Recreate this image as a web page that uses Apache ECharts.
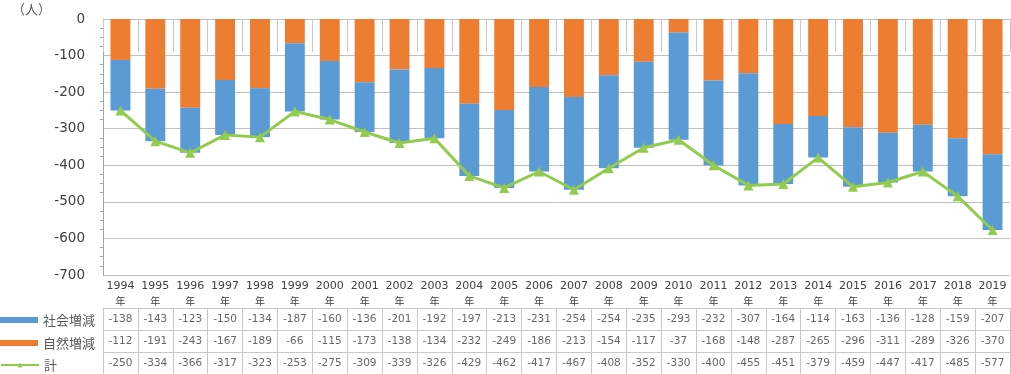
<!DOCTYPE html>
<html><head><meta charset="utf-8">
<script src="https://cdn.jsdelivr.net/npm/echarts@6/dist/echarts.min.js"></script>
<style>html,body{margin:0;padding:0;background:#fff}#c{width:1011px;height:374px}</style>
</head><body><div id="c"></div>
<script>
const years = ['1994','1995','1996','1997','1998','1999','2000','2001','2002','2003','2004','2005','2006','2007','2008','2009','2010','2011','2012','2013','2014','2015','2016','2017','2018','2019'];
const social = [-138,-143,-123,-150,-134,-187,-160,-136,-201,-192,-197,-213,-231,-254,-254,-235,-293,-232,-307,-164,-114,-163,-136,-128,-159,-207];
const natural = [-112,-191,-243,-167,-189,-66,-115,-173,-138,-134,-232,-249,-186,-213,-154,-117,-37,-168,-148,-287,-265,-296,-311,-289,-326,-370];
const total = [-250,-334,-366,-317,-323,-253,-275,-309,-339,-326,-429,-462,-417,-467,-408,-352,-330,-400,-455,-451,-379,-459,-447,-417,-485,-577];
const rowNames = ['社会増減','自然増減','計'];
const yTicks = [0,-100,-200,-300,-400,-500,-600,-700];

const rows = [social, natural, total];
const tableData = [];
rows.forEach((arr, r) => arr.forEach((v, i) => tableData.push({value: [i, r], v: v})));

const legendText = {fontFamily: 'Noto Sans CJK JP', fontSize: 13, color: '#595959', lineHeight: 14};
const legendTops = [313, 336, 358];
const legendIcons = ['rect', 'rect', undefined];

const chart = echarts.init(document.getElementById('c'));
chart.setOption({
  animation: false,
  textStyle: {fontFamily: 'DejaVu Sans'},
  graphic: [{type: 'text', left: 12, top: 3, style: {text: '（人）', fill: '#595959', font: '13px "Noto Sans CJK JP"'}}],
  legend: rowNames.map((n, i) => ({
    left: 0, top: legendTops[i], itemWidth: 38, itemHeight: 6, padding: 0,
    data: [legendIcons[i] ? {name: n, icon: legendIcons[i]} : {name: n}],
    textStyle: legendText
  })),
  grid: [
    {left: 103, right: 1, top: 19, height: 256},
    {left: 103, right: 1, top: 308, height: 68}
  ],
  xAxis: [
    {type: 'category', gridIndex: 0, data: years,
     axisLine: {show: true, lineStyle: {color: '#bfbfbf'}},
     axisTick: {show: true, length: 33, lineStyle: {color: '#c8c8c8'}},
     axisLabel: {interval: 0, margin: 4, fontSize: 11, color: '#404040', lineHeight: 15,
       formatter: v => v + '\n{n|年}', rich: {n: {fontFamily: 'Noto Sans CJK JP', fontSize: 10, color: '#404040', lineHeight: 15}}}},
    {type: 'category', gridIndex: 1, data: years,
     axisLine: {show: false}, axisTick: {show: false}, axisLabel: {show: false},
     splitLine: {show: true, interval: 0, lineStyle: {color: '#c8c8c8'}}}
  ],
  yAxis: [
    {type: 'value', gridIndex: 0, min: -700, max: 0, interval: 100,
     axisLine: {show: true, lineStyle: {color: '#a6a6a6'}},
     axisTick: {show: false},
     minorTick: {show: true, splitNumber: 4, length: 3, lineStyle: {color: '#a6a6a6'}},
     axisLabel: {fontSize: 13.5, color: '#404040', margin: 18, formatter: v => yTicks.includes(v) ? String(v) : ''},
     splitLine: {show: true, lineStyle: {color: '#c0c0c0'}}},
    {type: 'category', gridIndex: 1, data: rowNames, inverse: true,
     axisLine: {show: true, lineStyle: {color: '#c8c8c8'}}, axisTick: {show: false}, axisLabel: {show: false},
     splitLine: {show: true, interval: 0, lineStyle: {color: '#c8c8c8'}}}
  ],
  series: [
    {name: '自然増減', type: 'bar', stack: 's', data: natural, barWidth: '57%', itemStyle: {color: '#ED7D31'}},
    {name: '社会増減', type: 'bar', stack: 's', data: social, barWidth: '57%', itemStyle: {color: '#5B9BD5'}},
    {name: '計', type: 'line', data: total, symbol: 'triangle', symbolSize: 10,
     lineStyle: {color: '#92CB4E', width: 3}, itemStyle: {color: '#92CB4E'}, z: 5},
    {type: 'scatter', xAxisIndex: 1, yAxisIndex: 1, data: tableData, symbolSize: 0, silent: true,
     label: {show: true, position: 'inside', fontSize: 10.5, color: '#404040', formatter: p => String(p.data.v)}}
  ]
});
</script></body></html>
